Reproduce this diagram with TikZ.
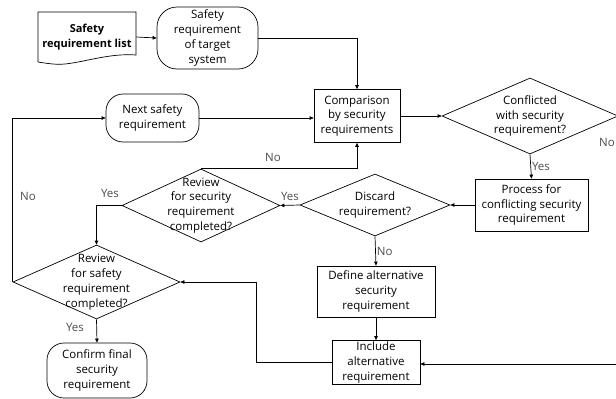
\documentclass[tikz,border=0pt]{standalone}
\usepackage{fontspec}
\setmainfont{Open Sans}
\usetikzlibrary{shapes.geometric,arrows.meta,calc}
\begin{document}
\begin{tikzpicture}[x=1pt,y=-1pt,
  line width=0.7pt,
  txt/.style={font=\fontsize{11.5}{14.8}\selectfont,align=center},
  box/.style={txt,draw,inner sep=0,rectangle},
  term/.style={txt,draw,inner sep=0,rectangle,rounded corners=17pt},
  dia/.style={draw,diamond,inner sep=0},
  dlab/.style={txt},
  arr/.style={-{Triangle[length=4pt,width=3.5pt]}},
  yn/.style={font=\fontsize{11.5}{12}\selectfont,text=black!70,inner sep=1pt}]
\useasboundingbox (0,0) rectangle (616,399);
\clip (0,0) rectangle (616,399);
% document shape
\node[align=center,font=\fontsize{11}{15}\selectfont\bfseries,minimum width=98pt,minimum height=50pt,inner sep=0] (list) at (87,37) {Safety\\requirement list};
\draw (38,62) -- (38,12) -- (136,12) -- (136,55) .. controls (110,53) and (85,62) .. (65,64) .. controls (55,65) and (45,63) .. (38,62);
\node[term,minimum width=101pt,minimum height=62pt,rounded corners=20pt] (target) at (207.5,38) {Safety\\requirement\\of target\\system};
\node[box,minimum width=86pt,minimum height=53pt] (comp) at (357,116) {Comparison\\by security\\requirements};
\node[term,minimum width=93pt,minimum height=48pt] (next) at (152.5,118) {Next safety\\requirement};
\node[dia,minimum width=176pt,minimum height=76pt,label={[dlab]center:Conflicted\\with security\\requirement?}] (conf) at (530,116) {};
\node[box,minimum width=113pt,minimum height=52pt] (proc) at (531.5,205) {Process for\\conflicting security\\requirement};
\node[dia,minimum width=150pt,minimum height=62pt,label={[dlab]center:Discard\\requirement?}] (disc) at (375,205) {};
\node[dia,minimum width=158pt,minimum height=73pt,label={[dlab]center:Review\\for security\\requirement\\completed?}] (revsec) at (201,205.5) {};
\node[dia,minimum width=167pt,minimum height=74pt,label={[dlab]center:Review\\for safety\\requirement\\completed?}] (revsaf) at (96.5,282) {};
\node[term,minimum width=100pt,minimum height=55pt] (confirm) at (97,370.5) {Confirm final\\security\\requirement};
\node[box,minimum width=88pt,minimum height=44pt] (include) at (376,362.5) {Include\\alternative\\requirement};
\node[box,minimum width=118pt,minimum height=51pt] (define) at (376,291.5) {Define alternative\\security\\requirement};
\coordinate (r) at (620,364);
\coordinate (k) at (256,282);
% connectors
\draw[arr] (list.east) -- (target.west);
\draw[arr] (target.east) -| (comp.north);
\draw[arr] (next.east) -- (next.east -| comp.west);
\draw[arr] (comp.east) -- (comp.east -| conf.west);
\draw[arr] (conf.south) -- node[yn,right]{Yes} (proc.north);
\draw (conf.east) -- ++(10,0);
\node[yn] at (607,142) {No};
\draw[arr] (proc.west) -- (disc.east);
\draw[arr] (disc.west) -- node[yn,above=3pt]{Yes} (revsec.east);
\draw[arr] (disc.south) -- node[yn,right]{No} (define.north);
\draw[arr] (revsec.north) -| (comp.south);
\node[yn] at (273,157) {No};
\draw[arr] (revsec.west) -| (revsaf.north);
\node[yn] at (110,193) {Yes};
\draw[arr] (revsaf.west) |- (next.west);
\node[yn] at (28,196) {No};
\draw[arr] (revsaf.south) -- (confirm.north);
\node[yn] at (75,327) {Yes};
\draw[arr] (define.south) -- (include.north);
\draw[arr] (include.west) -| (k) -- (revsaf.east);
\draw[arr] (r) -- (include.east |- r);
\end{tikzpicture}
\end{document}
